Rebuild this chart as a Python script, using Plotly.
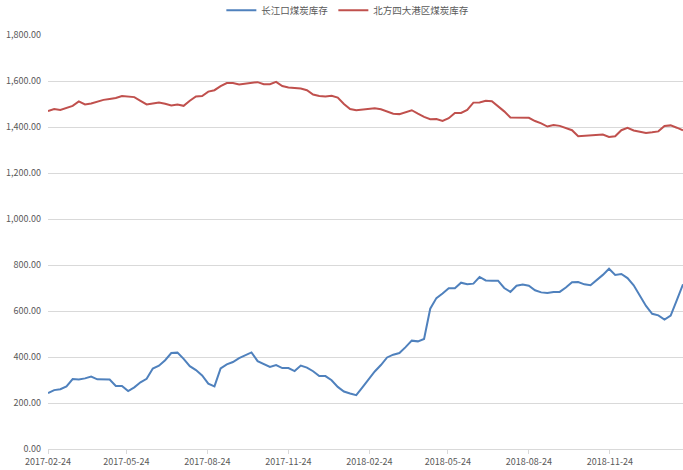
import pandas as pd
import plotly.graph_objs as go

# weekly observations, starting 2017-02-24
dates = pd.date_range('2017-02-24', periods=104, freq='7D')

changjiang = [
    243, 256, 260, 272, 304, 302, 307, 315, 303, 303,
    302, 274, 274, 252, 268, 290, 305, 350, 362, 386,
    417, 419, 392, 360, 343, 320, 284, 272, 350, 368,
    378, 395, 408, 420, 382, 370, 357, 365, 352, 352,
    339, 363, 354, 338, 317, 317, 299, 270, 250, 241,
    234, 268, 302, 337, 365, 398, 410, 417, 443, 471,
    468, 478, 610, 656, 676, 699, 699, 723, 716, 719,
    748, 733, 732, 732, 700, 683, 710, 715, 710, 690,
    681, 678, 683, 683, 702, 725, 726, 716, 712, 733,
    757, 784, 757, 761, 743, 712, 668, 622, 588, 581,
    563, 580, 647, 716,
]

north_ports = [
    1469, 1478, 1474, 1484, 1492, 1511, 1498, 1502, 1510, 1518,
    1522, 1526, 1535, 1532, 1530, 1514, 1498, 1502, 1506, 1501,
    1494, 1498, 1492, 1514, 1533, 1535, 1554, 1560, 1578, 1591,
    1591, 1585, 1589, 1594, 1595, 1586, 1586, 1596, 1578, 1572,
    1569, 1567, 1560, 1541, 1535, 1533, 1536, 1528, 1500, 1478,
    1473, 1476, 1479, 1481, 1477, 1466, 1458, 1456, 1464, 1473,
    1458, 1444, 1434, 1435, 1426, 1438, 1461, 1461, 1474, 1506,
    1507, 1514, 1512, 1490, 1468, 1441, 1441, 1441, 1440, 1426,
    1416, 1402, 1409, 1405, 1395, 1386, 1360, 1362, 1363, 1365,
    1367, 1357, 1360, 1386, 1396, 1385, 1378, 1374, 1377, 1381,
    1404, 1407, 1397, 1386,
]

tick_dates = ['2017-02-24', '2017-05-24', '2017-08-24', '2017-11-24',
              '2018-02-24', '2018-05-24', '2018-08-24', '2018-11-24']

font_family = 'Noto Sans CJK SC, sans-serif'
grey = '#595959'
grid = '#d9d9d9'

data = []
data.append(go.Scatter(
    x=dates, y=changjiang, name='长江口煤炭库存', mode='lines',
    line=dict(color='#4f81bd', width=2),
))
data.append(go.Scatter(
    x=dates, y=north_ports, name='北方四大港区煤炭库存', mode='lines',
    line=dict(color='#c0504d', width=2),
))

layout = go.Layout(
    width=683, height=470,
    margin=dict(l=48, r=0, t=35, b=21, autoexpand=False),
    paper_bgcolor='white', plot_bgcolor='white',
    font=dict(family=font_family, size=10, color=grey),
    showlegend=True,
    legend=dict(
        orientation='h', x=0.273, xanchor='left', y=1.095, yanchor='top',
        font=dict(size=9.5, color=grey), itemwidth=30, tracegroupgap=0,
        bgcolor='rgba(0,0,0,0)',
    ),
    xaxis=dict(
        type='date', automargin=False,
        range=['2017-02-24', '2019-02-15'],
        tickvals=tick_dates, ticktext=tick_dates,
        showgrid=False, zeroline=False,
        showline=True, linecolor=grid, linewidth=1,
        ticks='outside', ticklen=4, tickcolor=grid,
        tickfont=dict(size=9, color=grey),
    ),
    yaxis=dict(
        range=[0, 1800], dtick=200, tickformat=',.2f', automargin=False,
        showgrid=True, gridcolor=grid, gridwidth=1,
        zeroline=False, showline=False, ticklabelstandoff=6,
        tickfont=dict(size=9, color=grey),
    ),
)

fig = go.Figure(data=data, layout=layout)
# drop the browser's default 8px body margin so the figure sits at the corner
fig.write_html('out.html', config={'displayModeBar': False},
               post_script="document.body.style.margin='0';")
